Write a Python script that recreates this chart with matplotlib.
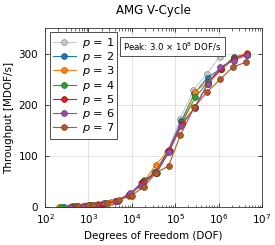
import numpy as np
import matplotlib
matplotlib.use("Agg")
import matplotlib.pyplot as plt
from matplotlib.ticker import LogLocator, NullFormatter

plt.rcParams["mathtext.fontset"] = "dejavusans"

# Degrees of freedom and throughput (MDOF/s) per polynomial degree
dof_p1 = [256, 512, 1024, 2048, 4096, 8192, 16400, 33000, 66000, 131000, 262000, 524000, 1050000]
thr_p1 = [1, 2, 3, 6, 11, 23, 46, 68, 108, 173, 229, 259, 294]

dof_p2 = [270, 540, 1080, 2160, 4320, 8640, 17300, 34600, 69100, 138000, 276000, 553000, 1110000, 2250000, 4400000]
thr_p2 = [1, 2, 3, 6, 11, 24, 48, 68, 110, 168, 222, 253, 270, 293, 298]

dof_p3 = [205, 410, 820, 1640, 3280, 8800, 17600, 35500, 70400, 141000, 282000, 563000, 1130000, 2250000, 4500000]
thr_p3 = [1, 1.5, 2.5, 5, 10, 22, 45, 83, 110, 162, 225, 245, 270, 292, 301]

dof_p4 = [234, 470, 1170, 2400, 4700, 9400, 18700, 37500, 75000, 145000, 290000, 580000, 1150000, 2250000, 4400000]
thr_p4 = [1, 2, 3, 8, 12, 25, 52, 67, 110, 166, 215, 245, 270, 292, 298]

dof_p5 = [412, 820, 1650, 2200, 4400, 8800, 17600, 35200, 70400, 141000, 282000, 563000, 1130000, 2250000, 4500000]
thr_p5 = [1, 2, 3, 5, 12, 24, 49, 67, 111, 163, 194, 241, 269, 290, 299]

dof_p6 = [365, 730, 1460, 2250, 4500, 9000, 16000, 36000, 70000, 138000, 280000, 560000, 1100000, 2200000, 4400000]
thr_p6 = [1, 2, 3, 7, 12, 27, 42, 67, 108, 158, 195, 241, 274, 286, 297]

dof_p7 = [560, 1000, 1300, 2700, 5000, 9800, 19000, 36000, 70000, 130000, 275000, 540000, 1100000, 2150000, 4300000]
thr_p7 = [2, 3, 4, 7, 14, 22, 40, 67, 80, 140, 195, 225, 250, 274, 283]

series = [
    (1, dof_p1, thr_p1, "#c8c8c8", "#8c8c8c"),
    (2, dof_p2, thr_p2, "#1f77b4", "#1a4f7a"),
    (3, dof_p3, thr_p3, "#ff7f0e", "#b35a0a"),
    (4, dof_p4, thr_p4, "#2ca02c", "#1e6e1e"),
    (5, dof_p5, thr_p5, "#e31a1c", "#9e1214"),
    (6, dof_p6, thr_p6, "#984ea3", "#6a3672"),
    (7, dof_p7, thr_p7, "#b15928", "#7b3e1c"),
]

fig = plt.figure(figsize=(2.75, 2.45), dpi=100)
ax = fig.add_axes([0.164, 0.155, 0.789, 0.731])

for p, x, y, col, edge in series:
    ax.plot(x, y, "-o", color=col, lw=0.8, ms=4.2, mfc=col, mec=edge, mew=0.5,
            label=f"$p$ = {p}")

ax.set_xscale("log")
ax.set_xlim(1e2, 1e7)
ax.set_ylim(0, 350)
ax.set_yticks([0, 100, 200, 300])
ax.xaxis.set_major_locator(LogLocator(base=10, numticks=10))
ax.xaxis.set_minor_locator(LogLocator(base=10, subs=np.arange(2, 10), numticks=20))
ax.xaxis.set_minor_formatter(NullFormatter())
ax.grid(True, which="major", color="#dddddd", lw=0.6)
ax.set_axisbelow(True)
ax.tick_params(which="both", direction="in", top=True, right=True, labelsize=7.5)
ax.tick_params(axis="x", pad=4)
ax.tick_params(axis="y", pad=5)
ax.tick_params(which="major", length=3, width=0.5)
ax.tick_params(which="minor", length=1.8, width=0.4)
for s in ax.spines.values():
    s.set_linewidth(0.6)
    s.set_color("#333333")

ax.set_title("AMG V-Cycle", fontsize=8.5, pad=10)
ax.set_xlabel("Degrees of Freedom (DOF)", fontsize=7.5, labelpad=3)
ax.set_ylabel("Throughput [MDOF/s]", fontsize=7.5, labelpad=3)

leg = ax.legend(loc="upper left", fontsize=8.2, handlelength=2.0, labelspacing=0.02,
                handletextpad=0.5, borderpad=0.3, borderaxespad=0.4,
                fancybox=False, framealpha=1, edgecolor="#333333")
leg.get_frame().set_linewidth(0.6)

ax.text(0.36, 0.895, r"Peak: 3.0 $\times$ 10$^{8}$ DOF/s", transform=ax.transAxes,
        fontsize=6.2, ha="left", va="center",
        bbox=dict(boxstyle="square,pad=0.4", fc="white", ec="#333333", lw=0.6))

fig.savefig("out.png", dpi=100)
